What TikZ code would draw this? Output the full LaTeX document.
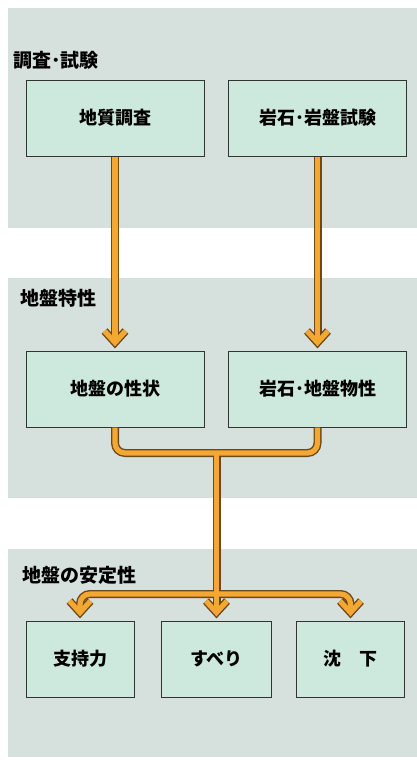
\documentclass[tikz,border=0pt]{standalone}
\usepackage{fontspec}
\newfontfamily\jp{Noto Sans CJK JP}
\usetikzlibrary{calc}
\definecolor{panel}{RGB}{214,224,220}
\definecolor{boxfill}{RGB}{205,232,220}
\definecolor{arrowfill}{RGB}{243,168,52}
\definecolor{arrowedge}{RGB}{110,72,24}
\newcommand\flowpaths[1]{%
  \draw[#1] (a1.south) -- ($(b1.north)+(0,-12)$);
  \draw[#1] (a2.south) -- ($(b2.north)+(0,-12)$);
  \draw[#1,rounded corners=10pt] (b1.south) |- (m) -| (b2.south);
  \draw[#1] (m) -- ($(c2.north)+(0,-12)$);
  \draw[#1,rounded corners=10pt] (s) -| ($(c1.north)+(0,-12)$);
  \draw[#1,rounded corners=10pt] (s) -| ($(c3.north)+(0,-12)$);
  \foreach \n in {b1,b2,c1,c2,c3}
    \draw[#1,line join=miter] ($(\n.north)+(-10.5,-19.5)$) -- ($(\n.north)+(0,-8)$) -- ($(\n.north)+(10.5,-19.5)$);
}
\begin{document}
\begin{tikzpicture}[x=1pt,y=-1pt,
  box/.style={draw=black!80, line width=1pt, fill=boxfill, minimum height=76pt,
    font=\jp\bfseries\fontsize{18}{21}\selectfont, inner sep=0pt},
  bigbox/.style={box, minimum width=178pt},
  smallbox/.style={box, minimum width=108pt},
  lab/.style={anchor=west, inner sep=0pt, font=\jp\bfseries\fontsize{19}{22}\selectfont},
  outer/.style={draw=arrowedge, line width=8pt},
  inner/.style={draw=arrowfill, line width=5.2pt}]
\useasboundingbox (0,0) rectangle (417,760);
\fill[white] (0,0) rectangle (417,760);
\fill[panel] (8,8) rectangle (417,228);
\fill[panel] (8,278) rectangle (417,498);
\fill[panel] (8,549) rectangle (417,757);
\node[lab] (l1) at (13,60) {調査･試験};
\node[lab] (l2) at (20,298) {地盤特性};
\node[lab] (l3) at (22,575) {地盤の安定性};
\node[bigbox] (a1) at (115,118) {地質調査};
\node[bigbox] (a2) at (317.5,118) {岩石･岩盤試験};
\node[bigbox] (b1) at (115,389) {地盤の性状};
\node[bigbox] (b2) at (317.5,389) {岩石･地盤物性};
\node[smallbox] (c1) at (80,659) {支持力};
\node[smallbox, minimum width=110pt] (c2) at (216.5,659) {すべり};
\node[smallbox] (c3) at (350.5,659) {沈　下};
\coordinate (m) at (216.5,453);
\coordinate (s) at (216.5,594);
\flowpaths{outer}
\flowpaths{inner}
\end{tikzpicture}
\end{document}
